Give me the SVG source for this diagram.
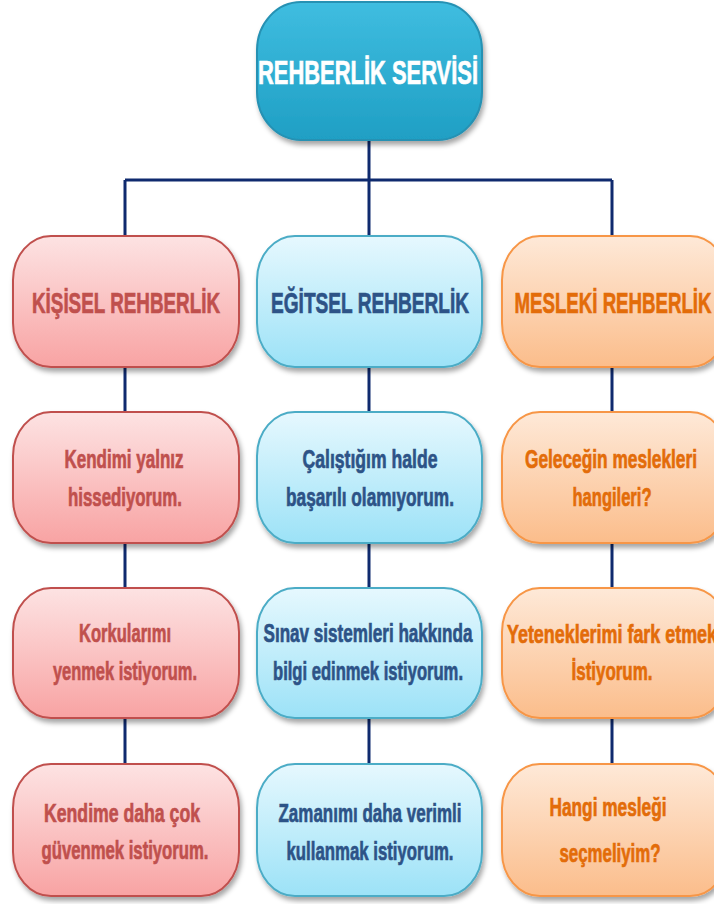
<svg xmlns="http://www.w3.org/2000/svg" width="714" height="904" viewBox="0 0 714 904">
<defs>
<linearGradient id="gTeal" x1="0" y1="0" x2="0" y2="1"><stop offset="0" stop-color="#3fbde0"/><stop offset="1" stop-color="#1f9fc4"/></linearGradient>
<linearGradient id="gPink" x1="0" y1="0" x2="0" y2="1"><stop offset="0" stop-color="#fde3e3"/><stop offset="1" stop-color="#f8a3a3"/></linearGradient>
<linearGradient id="gBlue" x1="0" y1="0" x2="0" y2="1"><stop offset="0" stop-color="#e6f8fe"/><stop offset="1" stop-color="#9ce2f7"/></linearGradient>
<linearGradient id="gOrange" x1="0" y1="0" x2="0" y2="1"><stop offset="0" stop-color="#fee9d8"/><stop offset="1" stop-color="#fbbd8b"/></linearGradient>
<filter id="sh" x="-10%" y="-10%" width="125%" height="130%"><feDropShadow dx="2" dy="4" stdDeviation="2.5" flood-color="#000" flood-opacity="0.35"/></filter>
</defs>
<style>
text{font-family:"Liberation Sans",Arial,sans-serif;font-weight:bold;text-anchor:middle;stroke-width:0.7px}
.box{filter:url(#sh);stroke-width:2}
.teal{fill:url(#gTeal);stroke:#2591b3}
.pink{fill:url(#gPink);stroke:#c0504d}
.blue{fill:url(#gBlue);stroke:#4bacc6}
.orange{fill:url(#gOrange);stroke:#f79646}
.tw{fill:#ffffff;stroke:#ffffff;font-size:33px}
.tp{fill:#c0504d;stroke:#c0504d}
.tb{fill:#2d5387;stroke:#2d5387}
.to{fill:#e36c09;stroke:#e36c09}
.h{font-size:30px}
.b{font-size:26px}
.conn{fill:none;stroke:#0f2a6e;stroke-width:3}
</style>
<g id="connectors">
<path class="conn" d="M369 140V180M125 180H612M125 180V237M369 180V237M612 180V237"/>
<path class="conn" d="M125 367V412M125 543V588M125 718V764"/>
<path class="conn" d="M369 367V412M369 543V588M369 718V764"/>
<path class="conn" d="M612 367V412M612 543V588M612 718V764"/>
</g>
<g id="root">
<rect class="box teal" x="257" y="2" width="225" height="138" rx="44" ry="48"/>
<text class="tw" x="368" y="84" textLength="220" lengthAdjust="spacingAndGlyphs">REHBERLİK SERVİSİ</text>
</g>
<g id="kisisel">
<rect class="box pink" x="13" y="236" width="226" height="131" rx="38" ry="44"/>
<text class="tp h" x="126" y="313" textLength="188" lengthAdjust="spacingAndGlyphs">KİŞİSEL REHBERLİK</text>
</g>
<g id="egitsel">
<rect class="box blue" x="257" y="236" width="225" height="131" rx="38" ry="44"/>
<text class="tb h" x="370" y="313" textLength="198" lengthAdjust="spacingAndGlyphs">EĞİTSEL REHBERLİK</text>
</g>
<g id="mesleki">
<rect class="box orange" x="502" y="236" width="226" height="131" rx="38" ry="44"/>
<text class="to h" x="613" y="313" textLength="197" lengthAdjust="spacingAndGlyphs">MESLEKİ REHBERLİK</text>
</g>
<g id="k1">
<rect class="box pink" x="13" y="412" width="226" height="131" rx="38" ry="44"/>
<text class="tp b" x="124" y="468" textLength="119" lengthAdjust="spacingAndGlyphs">Kendimi yalnız</text>
<text class="tp b" x="125" y="506" textLength="114" lengthAdjust="spacingAndGlyphs">hissediyorum.</text>
</g>
<g id="e1">
<rect class="box blue" x="257" y="412" width="225" height="131" rx="38" ry="44"/>
<text class="tb b" x="370" y="468" textLength="135" lengthAdjust="spacingAndGlyphs">Çalıştığım halde</text>
<text class="tb b" x="370" y="506" textLength="168" lengthAdjust="spacingAndGlyphs">başarılı olamıyorum.</text>
</g>
<g id="m1">
<rect class="box orange" x="502" y="412" width="226" height="131" rx="38" ry="44"/>
<text class="to b" x="611" y="468" textLength="172" lengthAdjust="spacingAndGlyphs">Geleceğin meslekleri</text>
<text class="to b" x="612" y="506" textLength="79" lengthAdjust="spacingAndGlyphs">hangileri?</text>
</g>
<g id="k2">
<rect class="box pink" x="13" y="588" width="226" height="130" rx="38" ry="44"/>
<text class="tp b" x="125" y="642" textLength="92" lengthAdjust="spacingAndGlyphs">Korkularımı</text>
<text class="tp b" x="125" y="680" textLength="144" lengthAdjust="spacingAndGlyphs">yenmek istiyorum.</text>
</g>
<g id="e2">
<rect class="box blue" x="257" y="588" width="225" height="130" rx="38" ry="44"/>
<text class="tb b" x="368" y="642" textLength="209" lengthAdjust="spacingAndGlyphs">Sınav sistemleri hakkında</text>
<text class="tb b" x="368" y="680" textLength="190" lengthAdjust="spacingAndGlyphs">bilgi edinmek istiyorum.</text>
</g>
<g id="m2">
<rect class="box orange" x="502" y="588" width="226" height="130" rx="38" ry="44"/>
<text class="to b" x="612" y="643" textLength="210" lengthAdjust="spacingAndGlyphs">Yeteneklerimi fark etmek</text>
<text class="to b" x="612" y="680" textLength="81" lengthAdjust="spacingAndGlyphs">İstiyorum.</text>
</g>
<g id="k3">
<rect class="box pink" x="13" y="764" width="226" height="132" rx="38" ry="44"/>
<text class="tp b" x="122" y="822" textLength="156" lengthAdjust="spacingAndGlyphs">Kendime daha çok</text>
<text class="tp b" x="125" y="859" textLength="167" lengthAdjust="spacingAndGlyphs">güvenmek istiyorum.</text>
</g>
<g id="e3">
<rect class="box blue" x="257" y="764" width="225" height="132" rx="38" ry="44"/>
<text class="tb b" x="370" y="822" textLength="183" lengthAdjust="spacingAndGlyphs">Zamanımı daha verimli</text>
<text class="tb b" x="370" y="860" textLength="167" lengthAdjust="spacingAndGlyphs">kullanmak istiyorum.</text>
</g>
<g id="m3">
<rect class="box orange" x="502" y="764" width="226" height="132" rx="38" ry="44"/>
<text class="to b" x="608" y="816" textLength="117" lengthAdjust="spacingAndGlyphs">Hangi mesleği</text>
<text class="to b" x="610" y="862" textLength="101" lengthAdjust="spacingAndGlyphs">seçmeliyim?</text>
</g>
</svg>
